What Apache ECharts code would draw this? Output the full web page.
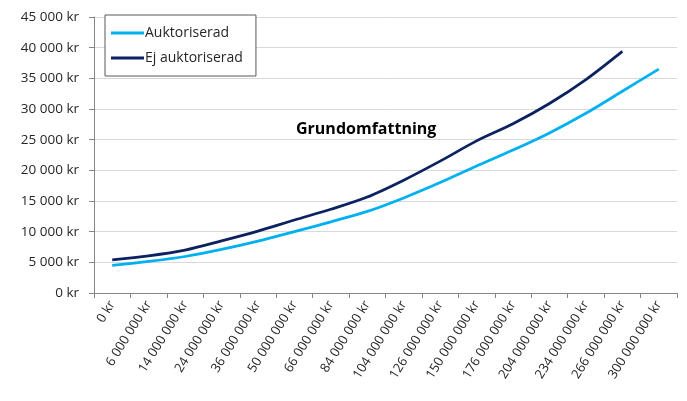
<!DOCTYPE html>
<html>
<head>
<meta charset="utf-8">
<script src="https://cdn.jsdelivr.net/npm/echarts@6/dist/echarts.min.js"></script>
<style>
  html, body { margin: 0; padding: 0; background: #fff; }
  #chart { width: 687px; height: 401px; }
</style>
</head>
<body>
<div id="chart"></div>
<script>
// kategorier (omsättning)
const categories = [
  '0 kr', '6 000 000 kr', '14 000 000 kr', '24 000 000 kr', '36 000 000 kr',
  '50 000 000 kr', '66 000 000 kr', '84 000 000 kr', '104 000 000 kr',
  '126 000 000 kr', '150 000 000 kr', '176 000 000 kr', '204 000 000 kr',
  '234 000 000 kr', '266 000 000 kr', '300 000 000 kr'
]
const auktoriserad = [4500, 5150, 5950, 7100, 8450, 10000, 11600, 13300, 15500, 18000, 20700, 23300, 26100, 29300, 32900, 36500]
const ejAuktoriserad = [5420, 6070, 7000, 8500, 10100, 11900, 13650, 15650, 18400, 21500, 24800, 27600, 30900, 34800, 39400]

const fontFam = '"Open Sans", Lato, sans-serif'

function kr (v) {
  return String(v).replace(/\B(?=(\d{3})+(?!\d))/g, ' ') + ' kr'
}

let myChart = echarts.init(document.getElementById('chart'))
let option = {
  animation: false,
  title: {
    text: 'Grundomfattning',
    left: 291,
    top: 116,
    textStyle: {
      fontFamily: fontFam,
      fontWeight: 'bold',
      fontSize: 16,
      color: '#000',
    },
  },
  legend: {
    orient: 'vertical',
    left: 105,
    top: 15,
    width: 151,
    padding: [11, 13, 11, 6],
    itemGap: 11,
    itemWidth: 33,
    itemHeight: 3,
    icon: 'rect',
    borderColor: '#595959',
    borderWidth: 1,
    backgroundColor: '#fff',
    textStyle: {
      fontFamily: fontFam,
      fontSize: 14,
      color: '#262626',
      padding: [0, 0, 0, -4],
    },
    data: ['Auktoriserad', 'Ej auktoriserad'],
  },
  grid: {
    left: 94,
    right: 10,
    top: 17,
    bottom: 108,
  },
  xAxis: {
    type: 'category',
    boundaryGap: true,
    data: categories,
    axisLine: { lineStyle: { color: '#868686' } },
    axisTick: { show: true, length: 5, interval: 0, lineStyle: { color: '#868686' } },
    axisLabel: {
      interval: 0,
      rotate: 58,
      margin: 9,
      fontFamily: fontFam,
      fontSize: 13,
      color: '#262626',
    },
    splitLine: { show: false },
  },
  yAxis: {
    type: 'value',
    min: 0,
    max: 45000,
    interval: 5000,
    axisLine: { show: true, lineStyle: { color: '#868686' } },
    axisTick: { show: true, length: 5, lineStyle: { color: '#868686' } },
    axisLabel: {
      formatter: kr,
      margin: 15,
      fontFamily: fontFam,
      fontSize: 13.5,
      color: '#262626',
    },
    splitLine: { lineStyle: { color: '#d9d9d9' } },
  },
  series: [
    {
      name: 'Auktoriserad',
      type: 'line',
      data: auktoriserad,
      smooth: 0.3,
      symbol: 'none',
      lineStyle: { width: 2.75, color: '#00b0f0' },
      itemStyle: { color: '#00b0f0' },
    },
    {
      name: 'Ej auktoriserad',
      type: 'line',
      data: ejAuktoriserad,
      smooth: 0.3,
      symbol: 'none',
      lineStyle: { width: 2.75, color: '#0b2160' },
      itemStyle: { color: '#0b2160' },
    },
  ],
}
option && myChart.setOption(option)
window.addEventListener('resize', () => {
  myChart.resize()
})
</script>
</body>
</html>
